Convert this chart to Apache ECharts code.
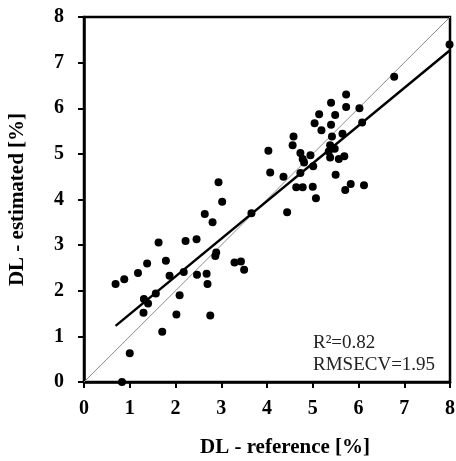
<!DOCTYPE html>
<html>
<head>
<meta charset="utf-8">
<script src="https://cdn.jsdelivr.net/npm/echarts@6/dist/echarts.min.js"></script>
<style>
  html, body { margin: 0; padding: 0; background: #fff; }
  #main { width: 456px; height: 461px; }
</style>
</head>
<body>
<div id="main"></div>
<script>
// reference vs estimated DL [%]
var refValues = [
    0.69, 0.88, 1.18, 1.38, 1.63, 1.79, 1.87, 1.31, 1.40, 1.57,
    1.30, 1.71, 1.00, 0.83, 2.02, 2.09, 2.18, 2.22, 2.46, 2.47,
    2.68, 2.70, 2.76, 2.64, 2.81, 2.94, 3.02, 2.89, 2.87, 3.29,
    3.43, 3.50, 3.66, 4.03, 4.07, 4.44, 4.36, 4.73, 4.64, 4.78,
    5.00, 5.07, 4.58, 4.56, 4.73, 4.95, 4.78, 4.81, 5.01, 5.04,
    5.14, 5.19, 5.40, 5.40, 5.42, 5.49, 5.38, 5.48, 5.35, 5.38,
    5.57, 5.69, 5.65, 5.50, 5.73, 5.73, 6.02, 6.08, 5.71, 5.83,
    6.12, 6.78, 7.99
];
var estValues = [
    2.15, 2.25, 2.39, 2.60, 3.06, 2.66, 2.33, 1.82, 1.72, 1.94,
    1.52, 1.10, 0.63, 0.00, 1.48, 1.90, 2.41, 3.09, 3.13, 2.35,
    2.37, 2.15, 1.46, 3.68, 3.50, 4.38, 3.95, 2.84, 2.76, 2.62,
    2.64, 2.46, 3.70, 5.07, 4.59, 3.72, 4.50, 4.58, 4.27, 4.27,
    4.28, 4.03, 5.38, 5.19, 5.02, 4.97, 4.89, 4.81, 4.73, 5.67,
    5.87, 5.52, 6.12, 5.64, 5.38, 5.85, 5.19, 5.11, 5.05, 4.92,
    4.89, 4.95, 5.44, 4.54, 6.30, 6.03, 6.00, 5.69, 4.21, 4.34,
    4.31, 6.69, 7.40
];
// fitted line end points
var fitX = [0.69, 8];
var fitY = [1.23, 7.27];
var oneToOne = [0, 8];
var tickLabels = ['0', '1', '2', '3', '4', '5', '6', '7', '8'];

var myChart = echarts.init(document.getElementById('main'));
var serif = 'Liberation Serif';

function axisStyle(name, gap, labelMargin, namePad) {
    return {
        type: 'value',
        min: 0,
        max: 8,
        interval: 1,
        name: name,
        nameLocation: 'middle',
        nameGap: gap,
        nameTextStyle: { fontFamily: serif, fontWeight: 'bold', fontSize: 21, color: '#000', padding: namePad },
        axisLine: { lineStyle: { color: '#000', width: 2.5 } },
        axisTick: { show: true, inside: false, length: 6, lineStyle: { color: '#000', width: 2 } },
        axisLabel: {
            fontFamily: serif, fontWeight: 'bold', fontSize: 20, color: '#000', margin: labelMargin,
            formatter: function (v) { return tickLabels[v]; }
        },
        splitLine: { show: false }
    };
}

var option = {
    animation: false,
    grid: {
        left: 84,
        right: 6,
        top: 17,
        bottom: 79,
        outerBoundsMode: 'none',
        containLabel: false,
        show: true,
        borderColor: '#000',
        borderWidth: 2.5
    },
    xAxis: axisStyle('DL - reference [%]', 55, 17, [0, 0, 0, 36]),
    yAxis: axisStyle('DL - estimated [%]', 56, 20, [0, 0, 0, 0]),
    series: [{
        type: 'line',
        data: oneToOne.map(function (v) { return [v, v]; }),
        symbol: 'none',
        lineStyle: { color: '#8c8c8c', width: 1 },
        z: 1
    }, {
        type: 'line',
        data: fitX.map(function (x, i) { return [x, fitY[i]]; }),
        symbol: 'none',
        lineStyle: { color: '#000', width: 2.5 },
        z: 2
    }, {
        type: 'scatter',
        data: refValues.map(function (x, i) { return [x, estValues[i]]; }),
        symbol: 'circle',
        symbolSize: 8,
        itemStyle: { color: '#000', opacity: 1 },
        z: 3
    }],
    graphic: [{
        type: 'text',
        left: 313,
        top: 334,
        style: { text: 'R²=0.82', font: '19px "Liberation Serif"', fill: '#222' }
    }, {
        type: 'text',
        left: 313,
        top: 356,
        style: { text: 'RMSECV=1.95', font: '19px "Liberation Serif"', fill: '#222' }
    }]
};

myChart.setOption(option);
</script>
</body>
</html>
